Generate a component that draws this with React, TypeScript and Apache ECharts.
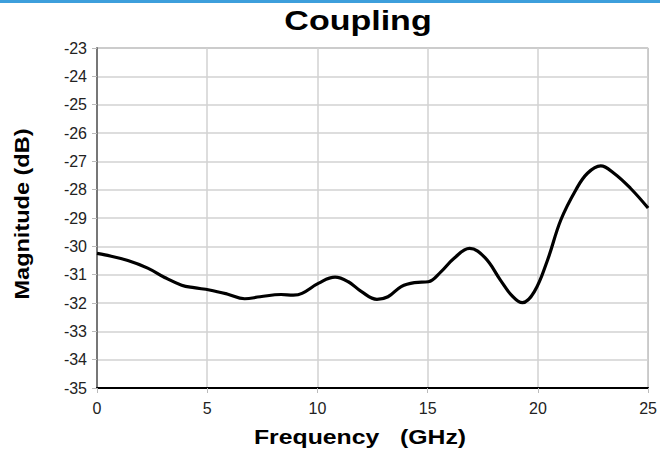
import React, { useEffect, useRef } from "react";
import * as echarts from "echarts";

const freqGHz = [0, 0.36, 1.4, 2.3, 3.07, 3.84, 4.4, 5.1, 5.9, 6.7, 7.4, 8.35, 8.9, 9.3, 10.06, 10.8, 11.4, 12.0, 12.7, 13.2, 13.8, 14.4, 15.03, 15.6, 16.2, 16.9, 17.6, 18.3, 18.8, 19.3, 19.84, 20.44, 21.04, 21.72, 22.25, 22.85, 23.45, 24.2, 25];
const magnitudeDb = [-30.25, -30.3, -30.5, -30.77, -31.1, -31.37, -31.46, -31.54, -31.68, -31.85, -31.78, -31.7, -31.72, -31.66, -31.3, -31.09, -31.25, -31.6, -31.87, -31.78, -31.42, -31.28, -31.25, -30.9, -30.42, -30.07, -30.4, -31.19, -31.72, -31.99, -31.6, -30.48, -29.07, -28.01, -27.42, -27.16, -27.42, -27.95, -28.65];

const titleText = "Coupling";
const xAxisName = "Frequency   (GHz)";
const yAxisName = "Magnitude (dB)";

export default function App() {
  const ref = useRef<HTMLDivElement>(null);
  useEffect(() => {
    document.body.style.margin = "0";
    const chart = echarts.init(ref.current!, undefined, { renderer: "svg" });
    const font = "'Liberation Sans', Arial, sans-serif";
    chart.setOption({
      animation: false,
      backgroundColor: "#ffffff",
      graphic: [
        { type: "rect", shape: { x: 0, y: 0, width: 660, height: 3 }, style: { fill: "#3d9fdc" } },
        {
          type: "text",
          x: 358,
          y: 21,
          scaleX: 1.26,
          style: { text: titleText, font: `bold 27px ${font}`, fill: "#000", align: "center", verticalAlign: "middle" },
        },
        {
          type: "text",
          x: 360,
          y: 437,
          scaleX: 1.24,
          style: { text: xAxisName, font: `bold 20px ${font}`, fill: "#000", align: "center", verticalAlign: "middle" },
        },
        {
          type: "text",
          rotation: Math.PI / 2,
          x: 22,
          y: 214,
          scaleX: 1.12,
          style: { text: yAxisName, font: `bold 21px ${font}`, fill: "#000", align: "center", verticalAlign: "middle" },
        },
      ],
      grid: { left: 97, right: 9, top: 48, bottom: 68, show: true, borderColor: "#777", borderWidth: 1 },
      xAxis: {
        type: "value",
        min: 0,
        max: 25,
        interval: 5,
        axisLine: { show: true, lineStyle: { color: "#000", width: 2 } },
        axisTick: { show: true, length: 5, lineStyle: { color: "#bbb" } },
        axisLabel: { fontFamily: font, fontSize: 16, color: "#222", margin: 12 },
        splitLine: { show: true, lineStyle: { color: "#d2d2d2", width: 1.5 } },
      },
      yAxis: {
        type: "value",
        min: -35,
        max: -23,
        interval: 1,
        axisLine: { show: true, lineStyle: { color: "#777", width: 2 } },
        axisTick: { show: true, length: 5, lineStyle: { color: "#bbb" } },
        axisLabel: { fontFamily: font, fontSize: 16, color: "#222", margin: 10 },
        splitLine: { show: true, lineStyle: { color: "#d2d2d2", width: 1.5 } },
      },
      series: [
        {
          type: "line",
          data: freqGHz.map((f, i) => [f, magnitudeDb[i]]),
          smooth: 0.4,
          symbol: "none",
          lineStyle: { color: "#000", width: 3.2 },
        },
      ],
    });
    return () => chart.dispose();
  }, []);
  return <div ref={ref} style={{ width: 660, height: 456 }} />;
}
